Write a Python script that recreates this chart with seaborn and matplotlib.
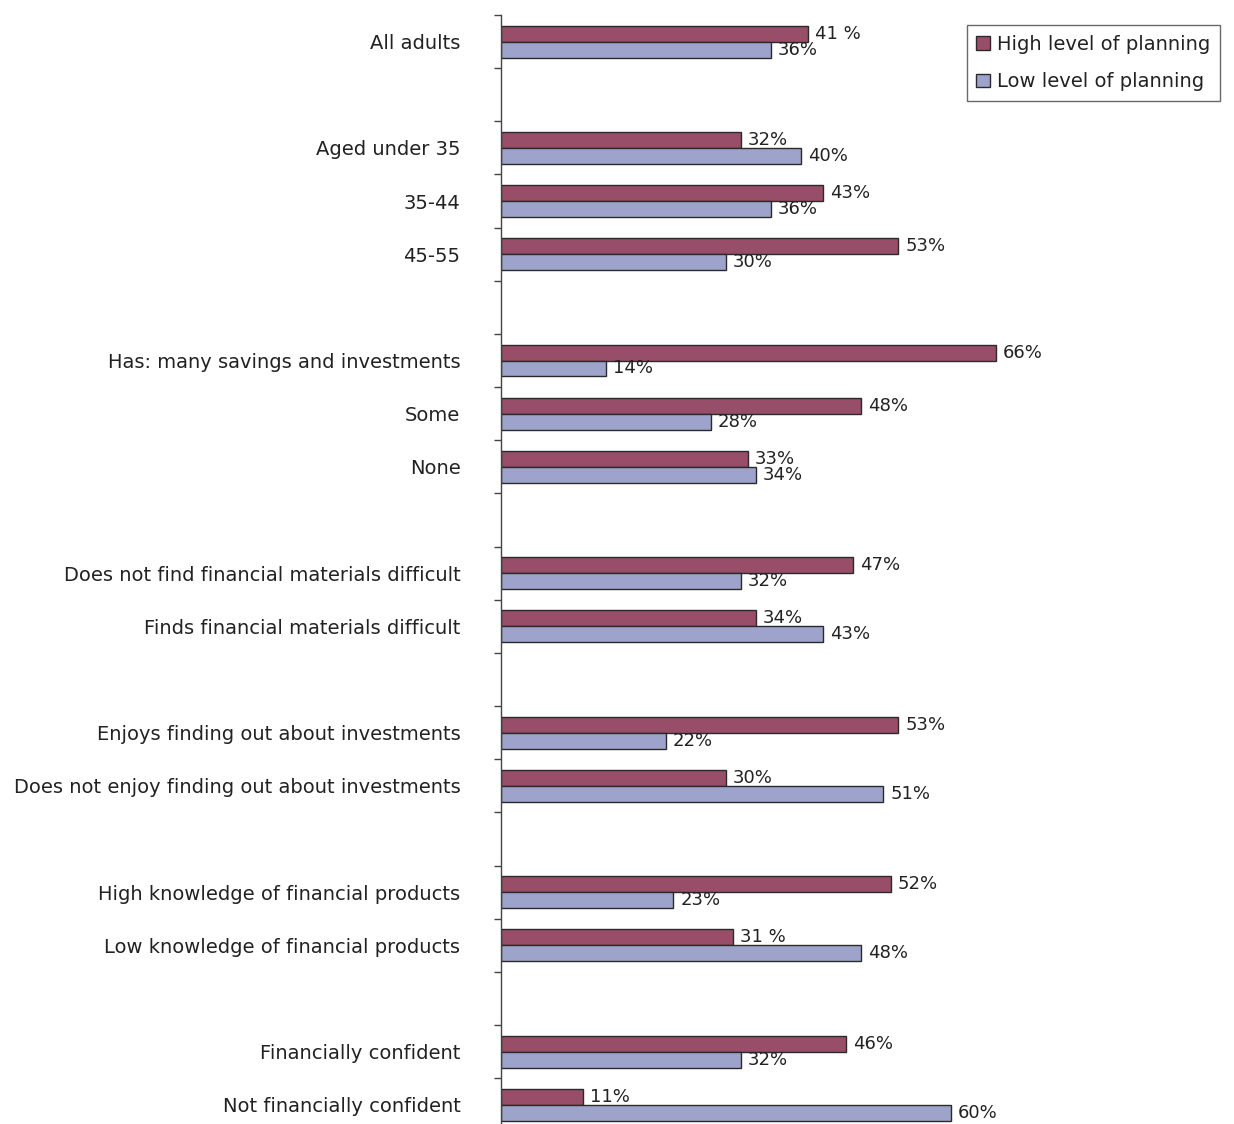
import matplotlib
matplotlib.use("Agg")
import matplotlib.pyplot as plt
from matplotlib.ticker import FixedLocator
from matplotlib.patches import Patch
import seaborn as sns
import pandas as pd

# Groups of respondents; empty strings mark the gaps between groups
rows = [
    "All adults", "",
    "Aged under 35", "35-44", "45-55", " ",
    "Has: many savings and investments", "Some", "None", "  ",
    "Does not find financial materials difficult", "Finds financial materials difficult", "   ",
    "Enjoys finding out about investments", "Does not enjoy finding out about investments", "    ",
    "High knowledge of financial products", "Low knowledge of financial products", "     ",
    "Financially confident", "Not financially confident",
]
categories = [r for r in rows if r.strip()]
high_planning = [41, 32, 43, 53, 66, 48, 33, 47, 34, 53, 30, 52, 31, 46, 11]
low_planning = [36, 40, 36, 30, 14, 28, 34, 32, 43, 22, 51, 23, 48, 32, 60]
series = ["High level of planning", "Low level of planning"]
# labels printed with a space before the percent sign
spaced_labels = {("All adults", series[0]), ("Low knowledge of financial products", series[0])}

df = pd.DataFrame({
    "group": categories * 2,
    "share": high_planning + low_planning,
    "planning": [series[0]] * len(categories) + [series[1]] * len(categories),
})

sns.set_theme(style="white")
plt.rcParams["font.family"] = ["DejaVu Sans"]
FS = 14
VALUE_FS = 13

colors = {series[0]: "#984E68", series[1]: "#9DA3CB"}
text_color = "#222222"

fig = plt.figure(figsize=(12.34, 11.24), dpi=100)
ax = fig.add_axes([500.7 / 1234, -7.3 / 1124, (1234 - 500.7) / 1234, (1131.3 - 15) / 1124])

sns.barplot(
    data=df, y="group", x="share", hue="planning", order=rows,
    hue_order=series, palette=colors, saturation=1, orient="h", width=0.6,
    edgecolor="#2a2a2a", linewidth=1.0, ax=ax, legend=False,
)

ax.set_xlim(0, (1234 - 500.7) / 7.5)
ax.set_ylim(len(rows) - 0.5, -0.5)
ax.set_xlabel("")
ax.set_ylabel("")
ax.set_xticks([])

# value labels next to each bar
value_of = {(c, series[0]): v for c, v in zip(categories, high_planning)}
value_of.update({(c, series[1]): v for c, v in zip(categories, low_planning)})
for container, name in zip(ax.containers, series):
    labels = []
    for patch in container:
        idx = int(round(patch.get_y() + patch.get_height() / 2))
        cat = rows[idx]
        v = value_of[(cat, name)]
        labels.append(f"{v} %" if (cat, name) in spaced_labels else f"{v}%")
    ax.bar_label(container, labels=labels, padding=5, fontsize=VALUE_FS, color=text_color)

for side in ["top", "right", "bottom"]:
    ax.spines[side].set_visible(False)
ax.spines["left"].set_color("#444444")
ax.spines["left"].set_linewidth(1.0)

ax.tick_params(axis="y", which="major", length=0, pad=29, labelsize=FS, labelcolor=text_color)
ax.yaxis.set_minor_locator(FixedLocator([i - 0.5 for i in range(len(rows) + 1)]))
ax.tick_params(axis="y", which="minor", length=5, width=1.0, color="#444444", left=True)

handles = [Patch(facecolor=colors[s], edgecolor="#2a2a2a", linewidth=1.0, label=s) for s in series]
leg = fig.legend(
    handles=handles, loc="upper left", bbox_to_anchor=(966.5 / 1234, 1 - 25 / 1124),
    frameon=True, fancybox=False, fontsize=FS, handlelength=0.7, handleheight=0.7,
    handletextpad=0.35, labelspacing=0.95, borderpad=0.5, borderaxespad=0,
)
leg.get_frame().set_edgecolor("#444444")
leg.get_frame().set_linewidth(1.0)
for t in leg.get_texts():
    t.set_color(text_color)

fig.savefig("out.png", dpi=100)
